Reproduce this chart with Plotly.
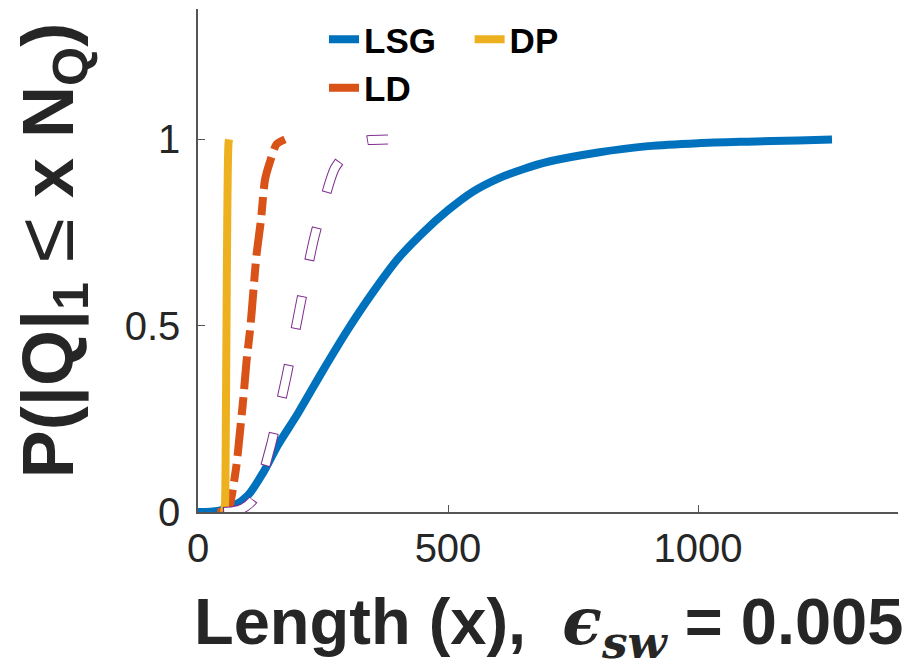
import plotly.graph_objects as go

# ---- data ----
lsg_x = [0, 40, 70, 100, 130, 160, 200, 250, 300, 350, 400, 450, 500, 550, 600, 650, 700, 800, 900, 1000, 1100, 1200, 1268]
lsg_y = [0.0, 0.003, 0.015, 0.045, 0.105, 0.18, 0.265, 0.38, 0.49, 0.59, 0.68, 0.75, 0.81, 0.86, 0.895, 0.92, 0.94, 0.965, 0.982, 0.99, 0.994, 0.997, 1.0]

ld_x = [38, 56, 62, 67, 77, 84, 91, 97, 105, 111, 117, 126, 134, 144, 157, 174]
ld_y = [0.0, 0.0, 0.01, 0.04, 0.126, 0.216, 0.31, 0.404, 0.50, 0.597, 0.69, 0.785, 0.892, 0.94, 0.987, 1.0]

dp_x = [52, 54, 55, 56, 57, 58, 59, 60, 61, 62]
dp_y = [0.0, 0.02, 0.1, 0.3, 0.5, 0.7, 0.85, 0.95, 0.99, 1.0]

oth_x = [50, 70, 90, 110, 125, 146, 153, 177, 204, 233, 273, 300, 317, 340, 380]
oth_y = [0.0, 0.002, 0.01, 0.032, 0.08, 0.18, 0.22, 0.364, 0.552, 0.739, 0.921, 0.97, 0.99, 0.998, 1.0]

x_ticks = [0, 500, 1000]
y_ticks = [0, 0.5, 1]
y_tick_text = ["0", "0.5", "1"]

BLUE = "#0072BD"
ORANGE = "#D95319"
YELLOW = "#EDB120"
PURPLE = "#7E2F8E"
AX = "#262626"

fig = go.Figure()
fig.add_trace(go.Scatter(x=lsg_x, y=lsg_y, mode="lines", name="LSG",
                         line=dict(color=BLUE, width=8, shape="spline", smoothing=0.8),
                         legend="legend"))
fig.add_trace(go.Scatter(x=ld_x, y=ld_y, mode="lines", name="LD",
                         line=dict(color=ORANGE, width=8, dash="33px,8px,18px,8px",
                                   shape="spline", smoothing=0.6),
                         legend="legend"))
fig.add_trace(go.Scatter(x=dp_x, y=dp_y, mode="lines", name="DP",
                         line=dict(color=YELLOW, width=8, shape="spline", smoothing=0.6),
                         legend="legend2"))
# outlined dashed series (purple edge, white fill)
fig.add_trace(go.Scatter(x=oth_x, y=oth_y, mode="lines", showlegend=False,
                         line=dict(color=PURPLE, width=10, dash="34px,36px",
                                   shape="spline", smoothing=0.6)))
fig.add_trace(go.Scatter(x=oth_x, y=oth_y, mode="lines", showlegend=False,
                         line=dict(color="white", width=8, dash="0px,1px,32px,37px",
                                   shape="spline", smoothing=0.6)))

tickfont = dict(family="Liberation Sans, Arial, sans-serif", size=40, color=AX)
legfont = dict(family="Liberation Sans, Arial, sans-serif", size=35, color="black", weight="bold")

fig.update_layout(
    width=920, height=666,
    margin=dict(l=198, r=22, t=9, b=154),
    paper_bgcolor="white", plot_bgcolor="white",
    xaxis=dict(range=[0, 1400], tickvals=x_ticks, ticktext=[str(v) for v in x_ticks],
               showline=True, linecolor="#555555", linewidth=1.5,
               ticks="inside", ticklen=7, tickcolor="#555555", tickwidth=1.2,
               showgrid=False, zeroline=False, tickfont=tickfont),
    yaxis=dict(range=[0, 1.35], tickvals=y_ticks, ticktext=y_tick_text,
               showline=True, linecolor="#555555", linewidth=1.5,
               ticks="inside", ticklen=7, tickcolor="#555555", tickwidth=1.2,
               showgrid=False, zeroline=False, tickfont=tickfont, ticklabelstandoff=8),
    legend=dict(x=0.18, y=0.998, xanchor="left", yanchor="top",
                orientation="v", bgcolor="rgba(0,0,0,0)", tracegroupgap=0,
                font=legfont),
    legend2=dict(x=0.388, y=0.998, xanchor="left", yanchor="top",
                 orientation="v", bgcolor="rgba(0,0,0,0)", font=legfont),
    showlegend=True,
)

fig.add_annotation(
    xref="paper", yref="paper", x=0.5, y=-0.2266, xanchor="center", yanchor="middle",
    showarrow=False,
    text=("<b>Length (x),</b>  <span style=\"font-family:DejaVu Serif\"><b><i>ϵ</i></b>"
          "<sub><b><i>sw</i></b></sub></span><b> = 0.005</b>"),
    font=dict(family="Liberation Sans, Arial, sans-serif", size=65, color=AX),
)
fig.add_annotation(
    xref="paper", yref="paper", x=-0.211, y=0.521, xanchor="center", yanchor="middle",
    showarrow=False, textangle=-90,
    text=("<b>P(|Q|<sub>1</sub></b> <span style=\"font-size:80px\">≤</span> "
          "<b>x N<sub>Q</sub>)</b>"),
    font=dict(family="Liberation Sans, Arial, sans-serif", size=72, color=AX),
)

fig.write_html("out.html")
